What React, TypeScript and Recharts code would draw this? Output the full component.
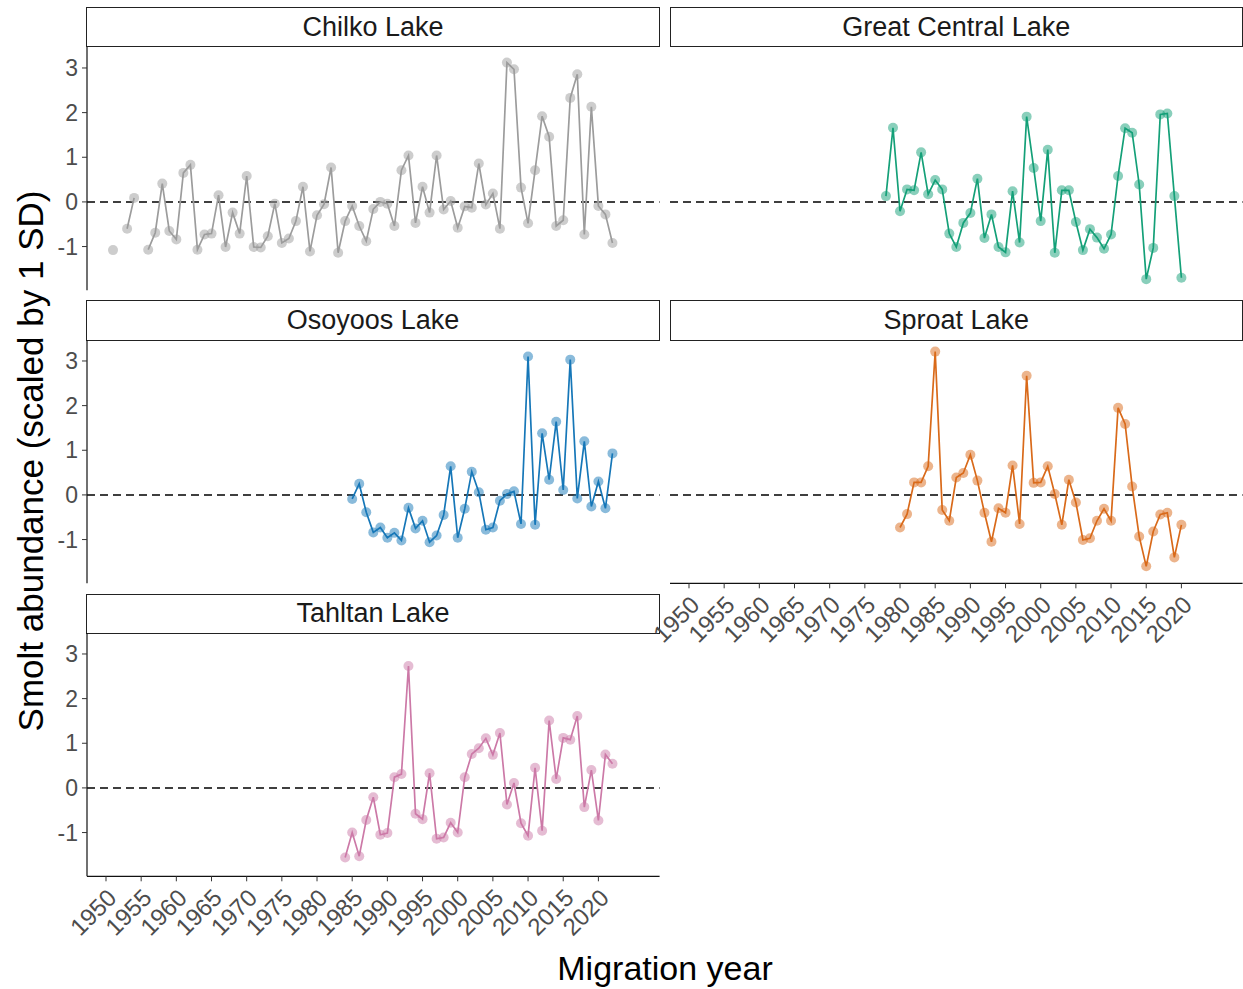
import React from "react";
import {
  LineChart,
  Line,
  XAxis,
  YAxis,
  ReferenceLine,
} from "recharts";

// scaled smolt abundance per lake, one value per migration year (null = no estimate)
const chilkoStart = 1951;
const chilkoValues = [
  -1.08, null, -0.6, 0.09, null, -1.07, -0.69, 0.41, -0.65, -0.84,
  0.65, 0.83, -1.07, -0.73, -0.71, 0.15, -1.01, -0.24, -0.71, 0.58,
  -1.01, -1.02, -0.77, -0.04, -0.92, -0.82, -0.43, 0.34, -1.11, -0.3,
  -0.05, 0.77, -1.14, -0.43, -0.09, -0.54, -0.88, -0.16, 0.0, -0.04,
  -0.54, 0.71, 1.04, -0.47, 0.34, -0.24, 1.04, -0.17, 0.02, -0.58,
  -0.1, -0.13, 0.86, -0.06, 0.19, -0.6, 3.12, 2.97, 0.32, -0.48,
  0.71, 1.92, 1.46, -0.54, -0.41, 2.33, 2.86, -0.73, 2.13, -0.09,
  -0.28, -0.92,
];

const greatCentralStart = 1978;
const greatCentralValues = [
  0.13, 1.66, -0.21, 0.28, 0.26, 1.11, 0.17, 0.49, 0.28, -0.71,
  -1.01, -0.47, -0.25, 0.52, -0.81, -0.28, -1.01, -1.13, 0.24, -0.91,
  1.91, 0.76, -0.43, 1.17, -1.14, 0.26, 0.26, -0.45, -1.08, -0.61,
  -0.8, -1.05, -0.73, 0.58, 1.65, 1.55, 0.39, -1.73, -1.03, 1.96,
  1.98, 0.13, -1.7,
];

const osoyoosStart = 1985;
const osoyoosValues = [
  -0.09, 0.25, -0.39, -0.84, -0.73, -0.96, -0.85, -1.02, -0.29, -0.75,
  -0.58, -1.06, -0.91, -0.45, 0.64, -0.96, -0.31, 0.52, 0.06, -0.78,
  -0.73, -0.13, 0.02, 0.08, -0.65, 3.1, -0.67, 1.38, 0.34, 1.64,
  0.11, 3.03, -0.08, 1.2, -0.26, 0.3, -0.3, 0.93,
];

const sproatStart = 1980;
const sproatValues = [
  -0.73, -0.43, 0.28, 0.28, 0.64, 3.21, -0.34, -0.58, 0.39, 0.49,
  0.9, 0.32, -0.4, -1.05, -0.3, -0.4, 0.66, -0.65, 2.67, 0.27,
  0.28, 0.64, 0.02, -0.67, 0.34, -0.17, -1.01, -0.97, -0.58, -0.31,
  -0.58, 1.95, 1.59, 0.19, -0.93, -1.6, -0.82, -0.44, -0.4, -1.4,
  -0.67,
];

const tahltanStart = 1984;
const tahltanValues = [
  -1.56, -1.0, -1.53, -0.72, -0.21, -1.05, -1.01, 0.24, 0.31, 2.73,
  -0.58, -0.7, 0.33, -1.14, -1.11, -0.78, -1.0, 0.24, 0.76, 0.89,
  1.11, 0.74, 1.23, -0.37, 0.11, -0.79, -1.07, 0.45, -0.96, 1.51,
  0.2, 1.12, 1.08, 1.61, -0.43, 0.4, -0.73, 0.75, 0.54,
];

const xTicks = [1950, 1955, 1960, 1965, 1970, 1975, 1980, 1985, 1990, 1995, 2000, 2005, 2010, 2015, 2020];
const yTicks = [-1, 0, 1, 2, 3];

const X_DOMAIN = [1947.3, 2028.7];
const Y_DOMAIN = [-1.98, 3.47];

const FONT = '"Liberation Sans", Arial, sans-serif';
const PANEL_W = 572.6;
const PANEL_H = 243.3;
const STRIP_H = 39.7;
const COL_X = [86.7, 670];
const ROW_Y = [46.7, 340, 633.3];
const Y_AXIS_W = 80;
const X_AXIS_H = 70;

const toRows = (start: number, values: (number | null)[]) =>
  values.map((v, i) => ({ year: start + i, value: v }));

const panels = [
  { name: "Chilko Lake", data: toRows(chilkoStart, chilkoValues), color: "#9c9c9c", col: 0, row: 0, showY: true, showX: false },
  { name: "Great Central Lake", data: toRows(greatCentralStart, greatCentralValues), color: "#14a078", col: 1, row: 0, showY: false, showX: false },
  { name: "Osoyoos Lake", data: toRows(osoyoosStart, osoyoosValues), color: "#1677b8", col: 0, row: 1, showY: true, showX: false },
  { name: "Sproat Lake", data: toRows(sproatStart, sproatValues), color: "#d96a1a", col: 1, row: 1, showY: false, showX: true },
  { name: "Tahltan Lake", data: toRows(tahltanStart, tahltanValues), color: "#cc79a7", col: 0, row: 2, showY: true, showX: true },
];

const XTick = (props: any) => {
  const { x, y, payload } = props;
  return (
    <g transform={`translate(${x + 12},${y + 15})`}>
      <text
        transform="rotate(-45)"
        textAnchor="end"
        fill="#4d4d4d"
        fontSize={24}
        fontFamily={FONT}
      >
        {payload.value}
      </text>
    </g>
  );
};

function Strip({ p }: { p: (typeof panels)[number] }) {
  const left = COL_X[p.col];
  const top = ROW_Y[p.row];
  return (
    <div
      style={{
        position: "absolute",
        left: left - 0.5,
        top: top - STRIP_H,
        width: PANEL_W + 1,
        height: STRIP_H + 0.7,
        boxSizing: "border-box",
        border: "1.6px solid #222",
        display: "flex",
        alignItems: "center",
        justifyContent: "center",
        fontSize: 27,
        color: "#1a1a1a",
        fontFamily: FONT,
      }}
    >
      {p.name}
    </div>
  );
}

function Panel({ p }: { p: (typeof panels)[number] }) {
  const left = COL_X[p.col];
  const top = ROW_Y[p.row];
  const w = PANEL_W + (p.showY ? Y_AXIS_W : 0);
  const h = PANEL_H + (p.showX ? X_AXIS_H : 0);
  return (
    <div
      style={{
        position: "absolute",
        left: left - (p.showY ? Y_AXIS_W : 0),
        top: top,
      }}
    >
      <LineChart
        width={w}
        height={h}
        data={p.data}
        margin={{ top: 0, right: 0, bottom: 0, left: 0 }}
      >
        <XAxis
          dataKey="year"
          type="number"
          domain={X_DOMAIN}
          ticks={xTicks}
          allowDataOverflow
          hide={!p.showX}
          height={X_AXIS_H}
          interval={0}
          tickSize={5}
          tickMargin={3}
          axisLine={{ stroke: "#111", strokeWidth: 1.2 }}
          tickLine={{ stroke: "#333" }}
          tick={<XTick />}
        />
        <YAxis
          type="number"
          domain={Y_DOMAIN}
          ticks={yTicks}
          allowDataOverflow
          hide={!p.showY}
          width={Y_AXIS_W}
          interval={0}
          tickSize={5}
          tickMargin={4}
          axisLine={{ stroke: "#111", strokeWidth: 1.2 }}
          tickLine={{ stroke: "#333" }}
          tick={{ fill: "#4d4d4d", fontSize: 23, fontFamily: FONT }}
        />
        <ReferenceLine y={0} stroke="#000" strokeWidth={1.5} strokeDasharray="8 5" />
        <Line
          dataKey="value"
          type="linear"
          stroke={p.color}
          strokeWidth={1.7}
          dot={{ r: 5, fill: p.color, fillOpacity: 0.5, stroke: "none" }}
          activeDot={false}
          connectNulls={false}
          isAnimationActive={false}
        />
      </LineChart>
    </div>
  );
}

export default function App() {
  return (
    <div
      style={{
        position: "absolute",
        left: 0,
        top: 0,
        width: 1243,
        height: 989,
        background: "#fff",
        fontFamily: FONT,
      }}
    >
      <style>{`.recharts-surface{overflow:visible}`}</style>
      {panels.map((p) => (
        <Strip key={"s" + p.name} p={p} />
      ))}
      {panels.map((p) => (
        <Panel key={p.name} p={p} />
      ))}
      {/* axis titles */}
      <div
        style={{
          position: "absolute",
          left: 31,
          top: 461,
          transform: "translate(-50%, -50%) rotate(-90deg)",
          whiteSpace: "nowrap",
          fontSize: 35,
          color: "#000",
        }}
      >
        Smolt abundance (scaled by 1 SD)
      </div>
      <div
        style={{
          position: "absolute",
          left: 665,
          top: 968,
          transform: "translate(-50%, -50%)",
          whiteSpace: "nowrap",
          fontSize: 34,
          color: "#000",
        }}
      >
        Migration year
      </div>
    </div>
  );
}
